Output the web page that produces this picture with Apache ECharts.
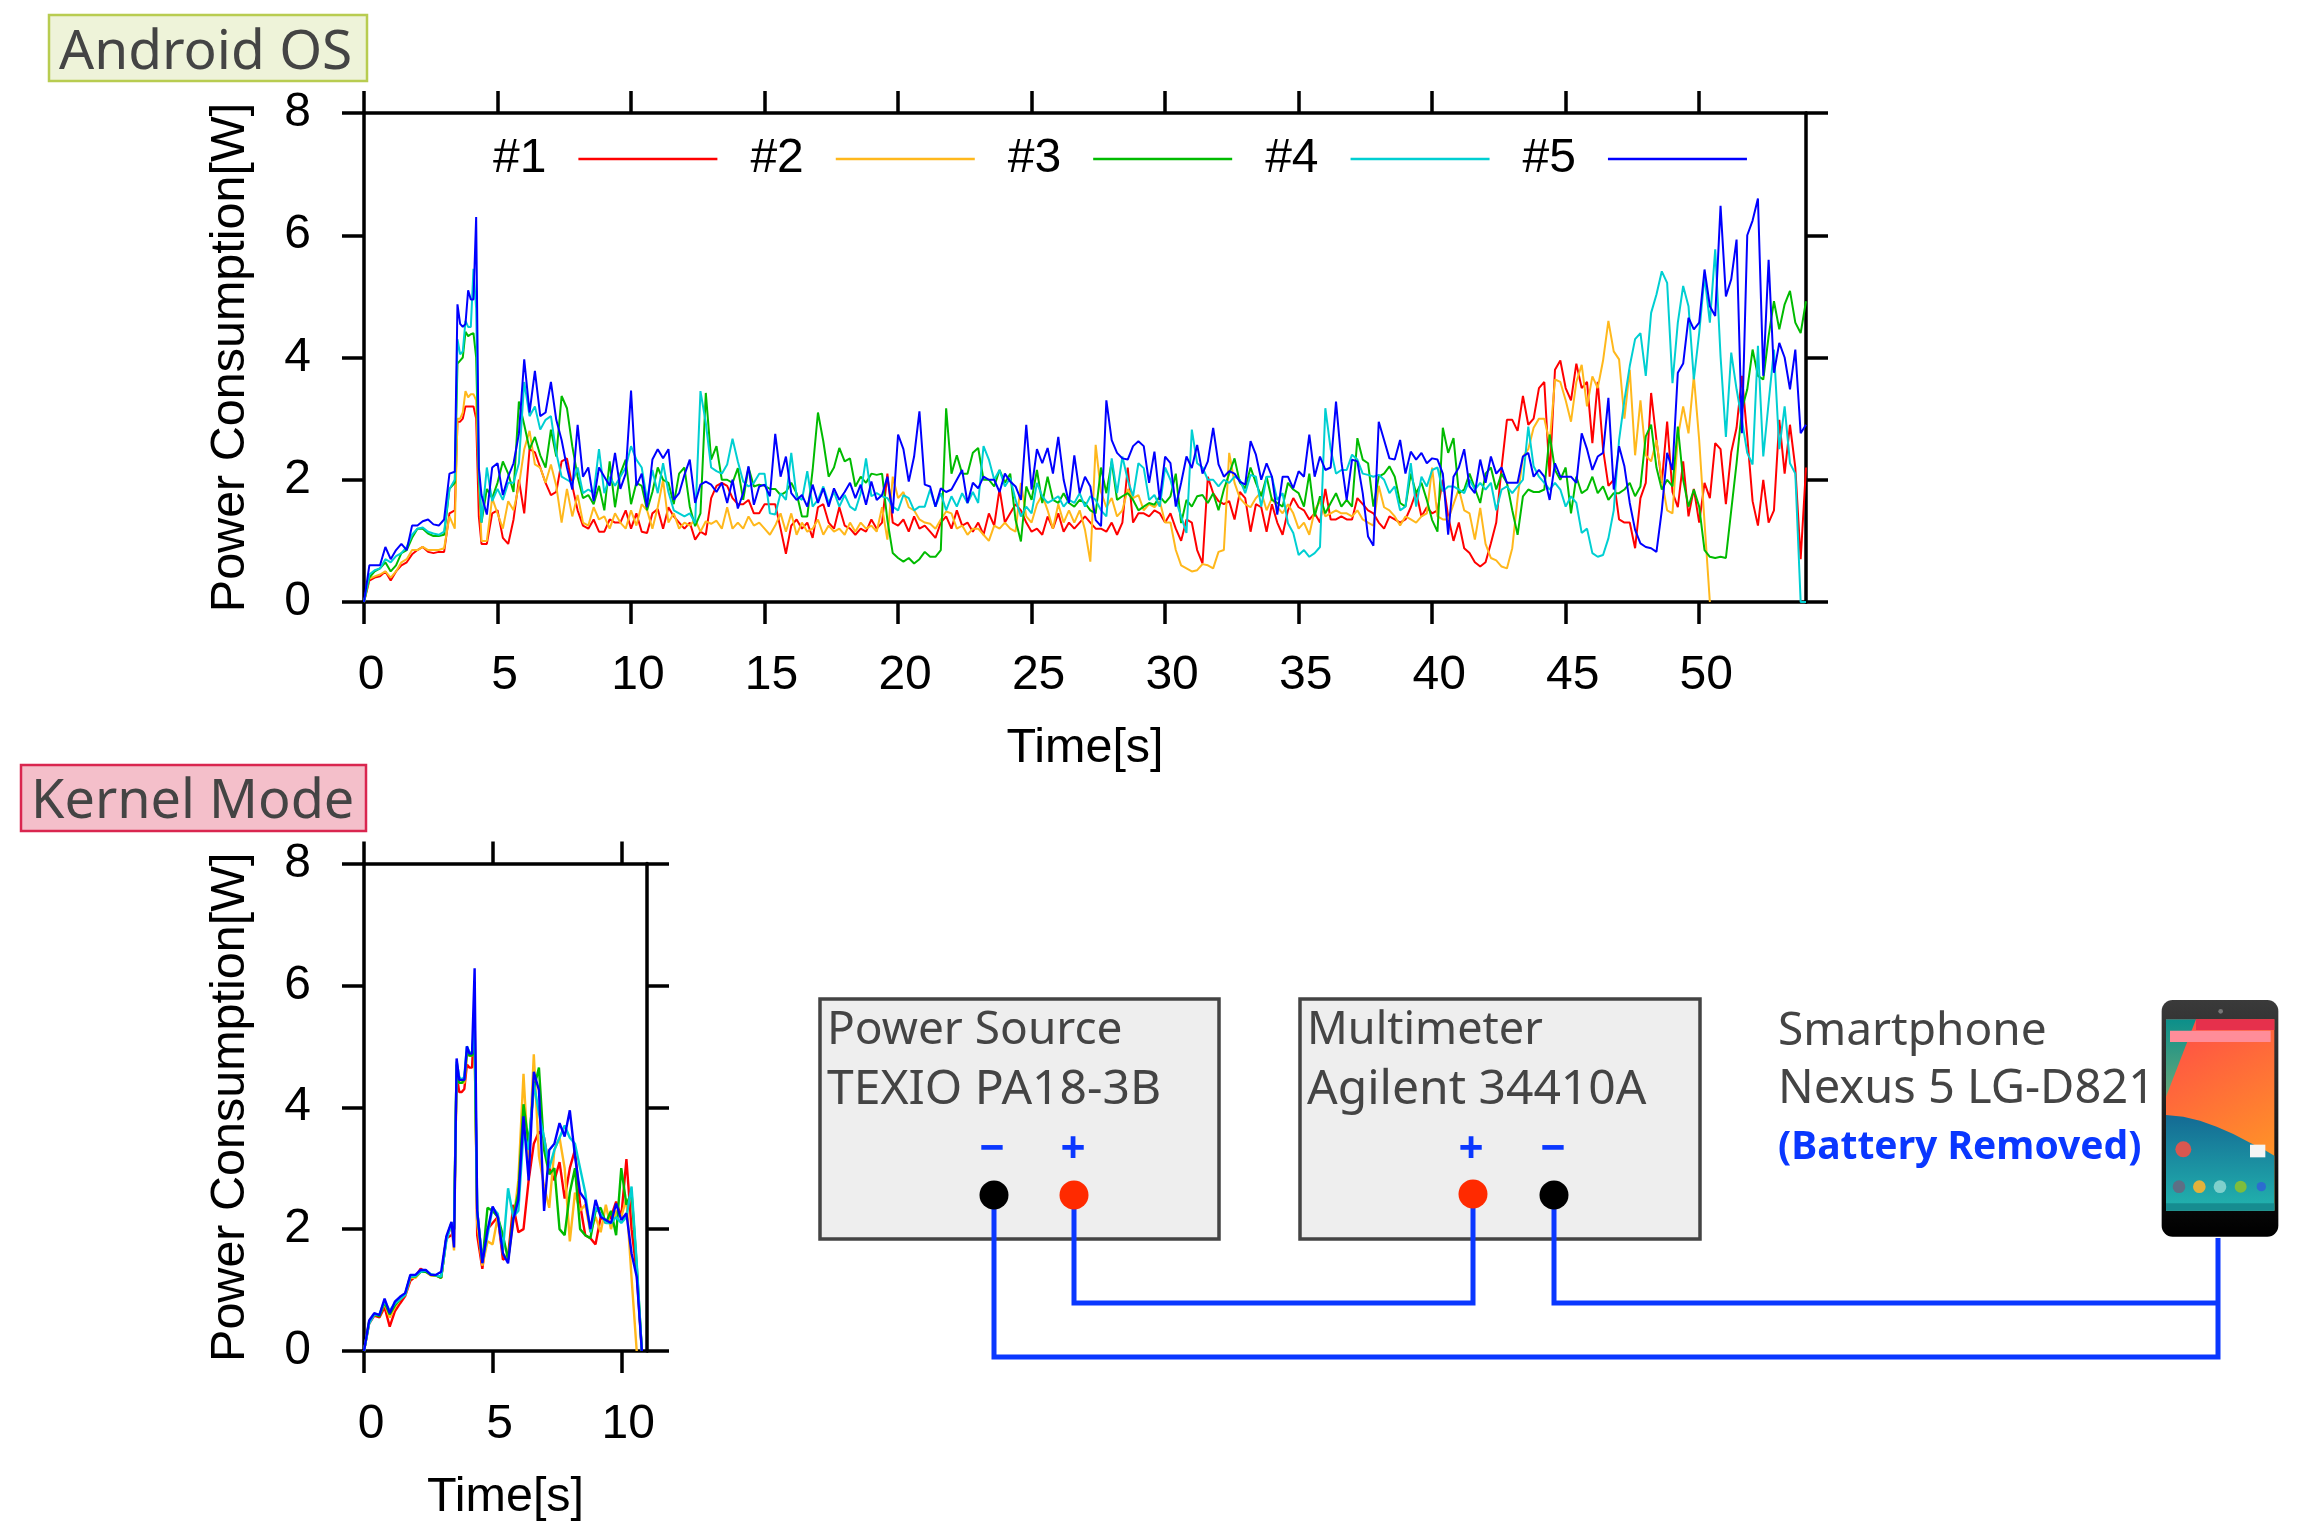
<!DOCTYPE html>
<html lang="en">
<head>
    <meta charset="UTF-8">
    <title>Power Consumption</title>
    <script src="https://cdn.jsdelivr.net/npm/echarts@6/dist/echarts.min.js"></script>
    <style>
        body { margin: 0; background: #fff; }
        .chart { width: 2304px; height: 1536px; }
    </style>
</head>
<body>
<div class="chart"></div>
<script>
    const runNames = ['#1', '#2', '#3', '#4', '#5'];
    const runColors = ['#ff0000', '#ffb81c', '#00bb00', '#00cfd2', '#0000ff'];
    const yTicks = [0, 2, 4, 6, 8];
    const androidTicks = [0, 5, 10, 15, 20, 25, 30, 35, 40, 45, 50];
    const kernelTicks = [0, 5, 10];

    // samples every 0.2 s (one row is 2 s), except 3.4 s to 4.4 s which is read every 0.1 s
    const androidRun1 = [
        0,.35,.4,.42,.5,.35,.5,.6,.65,.78,
        .85,.9,.82,.8,.82,.82,1.45,
        1.5,2.95,2.95,3.0,3.2,3.2,3.2,3.2,3.0,1.4,.95,
        .95,1.45,1.5,1.05,.95,1.35,2.0,
        1.45,2.5,2.45,2.2,1.95,1.75,1.8,2.3,2.35,1.9,
        1.5,1.25,1.2,1.35,1.15,1.15,1.35,1.3,1.3,1.5,
        1.2,1.45,1.15,1.13,1.45,1.52,1.2,1.55,1.4,1.3,
        1.2,1.3,1.02,1.15,1.1,1.7,1.9,1.95,1.9,1.7,
        1.6,1.6,1.67,1.45,1.45,1.6,1.6,1.6,1.2,.79,
        1.25,1.35,1.2,1.3,1.05,1.55,1.6,1.3,1.2,1.55,
        1.25,1.2,1.1,1.2,1.15,1.35,1.2,1.3,2.1,1.3,
        1.25,1.35,1.15,1.4,1.2,1.25,1.15,1.05,1.3,1.4,
        1.2,1.5,1.25,1.3,1.15,1.3,1.1,1.45,1.25,1.85,
        1.3,1.45,1.6,1.5,1.3,1.15,1.2,1.1,1.4,1.2,
        1.45,1.15,1.3,1.2,1.3,1.4,1.3,1.2,1.2,1.15,
        1.3,1.1,1.3,2.2,1.3,1.45,1.45,1.4,1.5,1.45,
        1.3,1.45,1.2,1.0,1.35,1.3,.85,.63,2.05,1.78,
        1.65,1.6,1.65,1.35,1.8,1.7,1.15,1.6,1.55,1.15,
        1.6,1.3,1.1,1.5,1.7,1.55,1.5,1.35,1.45,1.3,
        1.85,1.35,1.35,1.4,1.35,1.35,1.7,1.6,1.5,1.45,
        1.3,1.2,1.4,1.35,1.3,1.35,1.55,1.8,1.4,1.55,
        1.45,1.5,2.0,1.4,1.0,1.3,.88,.8,.65,.58,
        .65,.96,1.3,2.2,2.98,2.98,2.8,3.37,2.9,3.0,
        3.5,3.6,2.05,3.8,3.95,3.5,3.3,3.9,3.5,3.6,
        2.6,3.6,2.5,1.9,2.0,1.35,1.3,1.3,.88,1.7,
        1.95,3.42,2.65,1.95,2.95,1.8,1.55,2.3,1.4,1.85,
        1.3,1.95,1.7,2.6,2.5,1.6,2.45,2.85,3.7,2.71,
        1.65,1.25,2.0,1.3,1.5,2.98,2.1,2.9,2.2,.7,
        2.2
    ];
    const androidRun2 = [
        0,.38,.42,.45,.5,.4,.5,.65,.7,.85,
        .85,.9,.85,.85,.85,.88,1.4,
        1.2,3.0,3.0,3.1,3.45,3.35,3.4,3.4,3.3,2.0,1.0,
        1.0,1.7,1.45,1.2,1.65,1.5,1.9,
        2.5,2.8,2.25,2.2,1.95,2.25,1.9,1.3,1.85,1.4,
        1.75,1.3,1.25,1.55,1.35,1.4,1.2,1.45,1.3,1.2,
        1.5,1.25,1.6,1.5,1.2,1.55,2.0,1.3,1.45,1.2,
        1.3,1.25,1.35,1.15,1.32,1.28,1.33,1.2,1.55,1.2,
        1.3,1.2,1.4,1.25,1.3,1.2,1.1,1.25,1.45,1.15,
        1.45,1.1,1.3,1.15,1.2,1.35,1.1,1.25,1.15,1.2,
        1.1,1.3,1.15,1.3,1.2,1.25,1.15,1.55,1.02,2.05,
        1.7,1.8,1.55,1.5,1.35,1.3,1.28,1.2,1.35,1.48,
        1.45,1.2,1.25,1.1,1.2,1.2,1.1,1.0,1.25,1.2,
        1.3,1.2,1.15,1.95,1.4,1.3,1.6,1.75,1.5,1.2,
        1.6,1.3,1.5,1.3,1.5,1.18,.66,2.57,1.8,1.55,
        1.7,1.4,1.5,1.85,1.7,1.75,1.5,1.6,1.55,1.65,
        1.3,1.3,.85,.6,.55,.5,.52,.62,.6,.55,
        .82,.85,2.44,1.95,1.7,1.6,1.55,1.7,1.8,1.5,
        1.7,1.55,1.45,1.6,1.45,1.2,1.3,1.1,1.5,1.65,
        1.4,1.45,1.5,1.45,1.45,1.4,1.5,1.35,1.3,1.25,
        1.9,1.55,1.5,1.4,1.25,1.4,1.35,1.3,1.4,1.45,
        2.2,1.4,1.35,1.35,1.6,1.85,1.5,1.45,1.02,1.54,
        .95,.72,.68,.58,.55,.88,1.7,2.38,2.5,2.85,
        3.0,3.0,2.6,3.64,3.6,3.3,2.95,3.6,3.88,3.2,
        3.69,3.5,3.95,4.6,4.1,3.97,3.0,3.8,2.4,3.3,
        2.4,2.3,2.65,2.0,1.5,1.45,2.7,3.2,2.76,3.7,
        2.65,1.3,0
    ];
    const androidRun3 = [
        0,.4,.5,.55,.65,.5,.6,.8,.85,1.05,
        1.2,1.2,1.12,1.08,1.08,1.1,1.85,
        1.95,3.9,3.95,4.0,4.42,4.35,4.38,4.4,4.0,2.1,1.3,
        1.85,1.7,1.95,2.3,2.1,1.8,3.28,
        2.9,2.5,2.7,2.4,2.2,2.82,2.38,3.37,3.17,2.55,
        2.05,1.7,1.75,1.6,1.9,1.5,2.3,1.55,2.1,2.33,
        1.6,1.95,1.9,1.5,1.8,2.2,2.0,1.95,1.6,2.1,
        2.2,1.56,1.24,1.45,3.42,2.33,2.55,2.0,2.0,1.95,
        2.19,1.67,2.2,1.89,1.92,1.9,1.85,1.85,1.75,1.8,
        1.95,1.78,1.4,1.4,2.16,3.1,2.63,2.05,2.2,2.52,
        2.3,2.35,1.89,2.05,1.95,2.1,2.08,2.1,1.34,.8,
        .72,.66,.72,.63,.7,.82,.74,.74,.85,3.17,
        2.1,2.4,2.1,2.1,2.44,2.52,2.0,2.0,1.89,2.16,
        1.95,2.1,1.34,.99,1.89,1.67,2.16,1.62,2.05,1.67,
        1.62,1.78,1.62,1.56,1.67,1.62,1.5,1.45,2.2,1.78,
        2.3,1.67,1.73,1.78,1.67,1.5,1.56,1.62,1.59,1.73,
        1.62,1.73,2.1,1.29,1.67,1.56,1.73,1.75,1.62,1.78,
        1.5,1.84,2.1,2.35,1.95,1.86,2.2,1.95,1.73,2.05,
        1.67,1.62,1.56,1.95,1.84,1.78,1.56,2.1,1.4,1.73,
        1.45,1.62,1.78,1.56,1.67,1.56,2.68,2.33,2.27,1.56,
        2.05,2.1,2.22,2.05,1.62,1.56,2.1,1.78,1.95,1.67,
        1.34,1.15,2.85,2.44,2.68,1.78,1.84,2.1,1.86,1.62,
        2.1,2.2,1.84,2.1,1.95,1.5,1.1,1.73,1.84,1.8,
        1.8,1.84,2.74,2.16,2.0,2.2,1.45,2.05,1.78,1.84,
        2.05,1.78,1.89,1.67,1.78,1.78,1.84,1.95,1.73,1.89,
        2.71,2.9,2.2,1.84,2.0,1.89,2.87,2.0,1.56,1.84,
        1.56,.85,.74,.72,.74,.72,1.5,2.27,3.15,3.48,
        4.13,3.7,3.64,4.35,4.92,4.46,4.87,5.09,4.57,4.4,
        4.92
    ];
    const androidRun4 = [
        0,.45,.52,.55,.7,.65,.75,.8,.9,1.1,
        1.2,1.22,1.15,1.12,1.1,1.15,1.85,
        2.0,4.3,4.05,4.1,4.6,4.5,4.5,5.45,4.8,2.2,1.3,
        2.2,1.65,1.85,1.67,1.95,1.95,2.27,
        3.6,3.04,3.2,2.82,2.98,3.04,2.44,2.05,2.0,1.95,
        2.2,1.78,1.84,1.78,2.5,1.78,2.05,1.9,2.05,2.2,
        2.55,2.33,2.2,1.67,2.16,1.78,2.27,1.8,1.5,1.45,
        1.4,1.45,1.29,3.45,2.93,2.2,2.14,2.1,2.25,2.67,
        2.3,1.97,1.89,1.95,2.1,2.1,1.45,1.43,1.78,1.67,
        2.44,1.73,1.67,2.14,1.56,1.67,1.89,1.62,1.8,1.56,
        1.75,1.56,1.5,1.78,2.35,1.73,1.78,1.73,1.7,1.56,
        1.5,1.75,1.7,1.5,1.56,1.56,1.84,1.56,1.78,1.5,
        1.73,1.56,1.78,1.62,1.8,1.62,2.55,2.33,2.0,2.16,
        1.89,2.03,1.67,1.4,1.56,1.45,1.95,1.73,1.62,1.67,
        1.73,1.56,1.67,1.62,1.78,1.56,1.73,1.67,1.5,1.4,
        2.35,1.78,2.38,2.0,1.73,2.27,2.19,1.67,1.75,1.56,
        2.2,2.0,1.67,1.4,1.13,2.82,2.27,2.2,2.0,2.0,
        1.89,2.0,1.95,2.05,2.0,1.78,2.08,2.05,1.56,2.05,
        2.05,1.67,1.78,1.29,1.13,.77,.85,.74,.8,.9,
        3.17,2.5,2.1,2.16,2.16,2.41,2.33,2.1,2.08,2.05,
        2.08,2.0,1.78,1.89,1.5,1.56,2.27,1.56,2.05,1.89,
        2.16,2.2,1.81,1.89,1.89,1.84,1.78,2.0,1.84,1.95,
        1.84,1.95,1.5,1.84,1.89,1.78,1.89,2.0,2.87,2.22,
        2.05,1.95,1.84,1.95,1.84,1.56,1.73,1.62,1.13,1.2,
        .8,.74,.77,1.04,1.5,2.65,3.3,3.86,4.3,4.4,
        3.7,4.73,5.03,5.41,5.22,3.58,4.57,5.17,4.84,3.64,
        4.4,5.33,4.57,5.77,4.02,2.7,4.08,3.48,2.98,2.44,
        2.25,4.19,2.38,3.26,4.13,2.5,3.2,2.27,2.1,0,
        0
    ];
    const androidRun5 = [
        0,.6,.6,.6,.9,.7,.85,.95,.85,1.25,
        1.25,1.32,1.35,1.27,1.25,1.35,2.1,
        2.13,4.87,4.55,4.5,4.55,5.1,4.95,4.95,6.3,2.2,1.75,
        1.43,2.2,2.27,1.75,2.05,2.27,2.75,
        3.97,3.1,3.78,3.04,3.1,3.6,2.98,2.65,2.2,1.84,
        2.9,2.05,2.2,1.65,2.2,2.05,1.9,2.44,1.85,2.1,
        3.46,1.9,2.1,1.55,2.33,2.5,2.35,2.5,1.67,1.78,
        2.08,2.33,1.62,1.92,1.97,1.92,1.8,1.95,1.62,2.0,
        1.53,1.78,2.22,1.59,1.89,1.92,1.73,2.75,2.05,2.38,
        1.78,1.67,1.75,1.56,1.92,1.62,1.86,1.56,1.86,1.67,
        1.8,1.95,1.7,1.92,1.59,1.97,1.67,1.75,2.05,1.45,
        2.74,2.5,1.97,2.38,3.12,1.92,1.89,1.56,1.86,1.8,
        1.84,2.0,2.16,1.62,1.95,1.86,2.05,2.0,2.0,1.8,
        2.1,1.97,1.89,1.67,2.9,1.84,2.5,2.27,2.52,2.1,
        2.7,2.0,1.62,2.4,1.78,2.05,1.89,1.34,1.24,3.3,
        2.65,2.44,2.35,2.33,2.55,2.63,2.55,1.95,2.46,1.67,
        2.38,2.27,1.56,1.95,2.38,2.19,2.57,2.1,2.3,2.85,
        2.25,2.05,2.14,2.1,1.97,1.92,2.63,2.41,2.0,2.27,
        2.05,1.43,2.05,2.05,1.86,2.14,2.05,2.74,2.05,2.38,
        2.16,2.2,3.28,2.3,1.67,2.33,2.3,1.78,1.07,.92,
        2.95,2.65,2.35,2.33,2.65,2.1,2.46,2.33,2.44,2.27,
        2.35,2.33,2.1,1.1,2.05,2.2,2.5,1.89,1.78,2.33,
        1.95,2.38,2.1,2.2,1.95,1.95,1.95,2.38,2.44,2.05,
        2.16,2.05,1.67,2.27,2.05,2.05,2.05,1.95,2.76,2.5,
        2.16,2.38,2.44,3.34,1.84,2.55,2.22,1.62,1.18,.96,
        .9,.88,.82,1.5,2.44,2.16,3.75,3.9,4.65,4.46,
        4.57,5.44,4.84,4.68,6.48,5.0,5.28,5.93,2.76,6.0,
        6.24,6.6,3.7,5.6,3.75,4.24,4.0,3.48,4.13,2.76,
        2.9
    ];

    const kernelRun1 = [
        0,.45,.58,.55,.72,.4,.65,.78,.9,1.15,
        1.22,1.35,1.3,1.25,1.24,1.2,1.85,
        1.9,2.0,4.55,4.25,4.25,4.3,4.7,4.65,4.65,5.55,1.9,
        1.35,2.0,2.1,2.2,1.5,1.55,2.4,
        1.95,2.0,2.8,3.4,3.6,3.5,3.0,2.8,3.1,2.5,
        3.0,3.3,2.4,1.9,1.85,1.75,2.2,2.1,2.2,2.45,
        2.2,3.15,2.0,1.28,0
    ];
    const kernelRun2 = [
        0,.47,.6,.58,.78,.55,.72,.85,.92,1.2,
        1.2,1.3,1.3,1.24,1.24,1.2,1.85,
        2.05,1.65,4.7,4.4,4.4,4.4,4.85,4.85,4.85,5.0,2.1,
        1.4,1.8,1.75,2.2,1.6,1.5,2.1,
        2.8,4.55,3.0,4.87,3.2,2.7,2.35,3.3,3.5,3.0,
        1.8,2.6,2.3,2.4,1.95,2.2,1.95,2.4,2.0,2.3,
        2.2,2.5,1.2,0
    ];
    const kernelRun3 = [
        0,.48,.6,.57,.8,.6,.75,.85,.93,1.22,
        1.22,1.3,1.3,1.25,1.24,1.2,1.85,
        2.1,2.0,4.7,4.4,4.4,4.45,4.9,4.85,4.85,5.0,2.3,
        1.45,2.35,2.3,2.2,1.9,1.5,2.2,
        2.6,4.05,3.4,4.3,4.65,3.3,2.9,3.0,2.0,1.9,
        2.6,3.0,2.0,1.9,1.85,2.3,2.35,2.1,2.3,1.9,
        3.0,2.4,2.6,1.4,0
    ];
    const kernelRun4 = [
        0,.45,.6,.6,.82,.66,.78,.85,.92,1.22,
        1.23,1.3,1.32,1.26,1.24,1.22,1.8,
        2.1,2.0,4.75,4.5,4.45,4.5,5.0,4.9,4.9,5.4,2.3,
        1.46,1.9,2.35,2.25,1.65,2.67,2.2,
        2.3,3.6,3.3,4.4,3.9,3.5,3.0,3.3,3.5,3.7,
        3.5,3.4,3.0,2.6,1.95,2.35,2.25,2.1,2.1,2.2,
        2.1,2.2,2.7,1.45,0
    ];
    const kernelRun5 = [
        0,.5,.62,.59,.86,.62,.81,.89,.95,1.25,
        1.25,1.33,1.33,1.25,1.25,1.3,1.88,
        2.12,1.7,4.8,4.45,4.45,4.45,5.0,4.88,4.88,6.28,2.3,
        1.44,1.98,2.37,2.2,1.6,1.44,2.15,
        2.48,3.85,2.8,4.58,4.28,2.3,3.3,3.4,3.74,3.52,
        3.95,3.2,2.6,2.48,2.0,2.48,2.2,2.15,2.1,2.42,
        2.15,2.26,1.6,1.22,0
    ];

    const androidRuns = [androidRun1, androidRun2, androidRun3, androidRun4, androidRun5];
    const kernelRuns = [kernelRun1, kernelRun2, kernelRun3, kernelRun4, kernelRun5];

    const FONT = '"Liberation Sans", sans-serif';
    const DIAGRAM_FONT = '"Noto Sans", sans-serif';
    const CABLE = '#0a37ff';

    let chart = echarts.init(document.querySelector('.chart'));

    // time of k-th sample
    function timeOf(k) {
        if (k <= 17) return k * 0.2;
        if (k <= 27) return 3.4 + (k - 17) * 0.1;
        return 4.4 + (k - 27) * 0.2;
    }

    function xAxisOf(gridIndex, max, ticks, position) {
        let isBottom = position == 'bottom';
        return {
            type: 'value', gridIndex, position, min: 0, max,
            name: isBottom ? 'Time[s]' : '',
            nameLocation: 'middle',
            nameGap: 122,
            nameTextStyle: {fontFamily: FONT, fontSize: 48.5, color: '#000'},
            axisLine: {show: true, onZero: false, lineStyle: {color: '#000', width: 3.5}},
            axisTick: {show: true, length: 22, customValues: ticks, lineStyle: {color: '#000', width: 3.5}},
            axisLabel: {
                show: isBottom, customValues: ticks, margin: 50,
                padding: [0, 0, 0, 14],
                fontFamily: FONT, fontSize: 48, color: '#000'
            },
            splitLine: {show: false}
        };
    }

    function yAxisOf(gridIndex, position) {
        let isLeft = position == 'left';
        return {
            type: 'value', gridIndex, position, min: 0, max: 8, interval: 2,
            name: isLeft ? 'Power Consumption[W]' : '',
            nameLocation: 'middle',
            nameGap: 109,
            nameTextStyle: {fontFamily: FONT, fontSize: 48.5, color: '#000'},
            axisLine: {show: true, onZero: false, lineStyle: {color: '#000', width: 3.5}},
            axisTick: {show: true, length: 22, lineStyle: {color: '#000', width: 3.5}},
            axisLabel: {show: isLeft, margin: 53, padding: [9, 0, 0, 0], fontFamily: FONT, fontSize: 48, color: '#000'},
            splitLine: {show: false}
        };
    }

    function seriesOf(runs, axisIndex, width) {
        return runs.map((run, i) => ({
            type: 'line',
            name: runNames[i],
            xAxisIndex: axisIndex,
            yAxisIndex: axisIndex,
            data: run.map((v, k) => [timeOf(k), v]),
            showSymbol: false,
            symbol: 'none',
            silent: true,
            lineStyle: {color: runColors[i], width},
            itemStyle: {color: runColors[i]},
            z: 2 + i
        }));
    }

    // ---- diagram pieces ----
    function rect(x, y, w, h, fill, stroke, lineWidth) {
        return {type: 'rect', shape: {x, y, width: w, height: h}, style: {fill, stroke, lineWidth}};
    }
    function text(x, y, value, fontSize, fill, weight, align) {
        return {
            type: 'text', x, y,
            style: {
                text: value, fontFamily: DIAGRAM_FONT, fontSize, fill,
                fontWeight: weight || 'normal',
                align: align || 'left', verticalAlign: 'middle'
            }
        };
    }
    function cable(points) {
        return {type: 'polyline', shape: {points}, style: {stroke: CABLE, lineWidth: 5, fill: 'none'}};
    }
    function dot(x, y, fill) {
        return {type: 'circle', shape: {cx: x, cy: y, r: 14.5}, style: {fill}};
    }

    // phone picture, coordinates given in a 462x810 box placed at 2150,990
    function phone() {
        let px = x => 2150 + x / 3, py = y => 990 + y / 3;
        let poly = (pts, fill) => ({
            type: 'polygon',
            shape: {points: pts.map(p => [px(p[0]), py(p[1])])},
            style: {fill}
        });
        let grad = (x, y, x2, y2, c1, c2) => ({
            type: 'linear', x, y, x2, y2, colorStops: [{offset: 0, color: c1}, {offset: 1, color: c2}]
        });
        let ball = (x, y, r, fill) => ({type: 'circle', shape: {cx: px(x), cy: py(y), r: r / 3}, style: {fill}});
        let box = (x, y, w, h, fill) => ({type: 'rect', shape: {x: px(x), y: py(y), width: w / 3, height: h / 3}, style: {fill}});
        return [
            {type: 'rect', shape: {x: px(35), y: py(30), width: 350 / 3, height: 710 / 3, r: 11},
                style: {fill: grad(0, 0, 0, 1, '#3a3a3a', '#000')}},
            box(48, 88, 325, 574, grad(0, 0, 1, 1, '#ff4a48', '#ffa81e')),
            poly([[48, 88], [138, 88], [48, 320]], grad(0, 0, 0, 1, '#0b8f8a', '#6aa878')),
            box(138, 88, 235, 32, '#e6304c'),
            box(60, 122, 302, 34, '#ff8d99'),
            poly([[48, 375], [100, 380], [150, 392], [200, 410], [250, 432], [300, 458], [340, 478], [373, 497],
                [373, 662], [48, 662]], grad(0, 0, 0, 1, '#146a94', '#22b4ae')),
            box(48, 640, 325, 22, '#168c90'),
            ball(100, 478, 24, '#d8574f'),
            box(300, 464, 46, 38, '#f4f4f4'),
            ball(87, 590, 19, '#5d6f85'),
            ball(148, 590, 19, '#e2b23c'),
            ball(210, 590, 19, '#7fd0cc'),
            ball(272, 590, 18, '#7ebd3c'),
            ball(334, 590, 14, '#2c6cd0'),
            ball(212, 64, 7, '#777')
        ];
    }

    let graphics = [
        // titles
        rect(49, 15, 318, 66, '#eef3d9', '#b8cc50', 2.5),
        text(59, 53, 'Android OS', 55, '#444'),
        rect(21, 765, 345, 66, '#f4bfca', '#d9264f', 2.5),
        text(31, 803, 'Kernel Mode', 54, '#444'),

        // instruments
        rect(820, 999, 399, 240, '#eeeeee', '#444', 3.5),
        rect(1300, 999, 400, 240, '#eeeeee', '#444', 3.5),
        text(827, 1031, 'Power Source', 46, '#444'),
        text(827, 1090, 'TEXIO PA18-3B', 48, '#444'),
        text(1307, 1031, 'Multimeter', 45, '#444'),
        text(1307, 1090, 'Agilent 34410A', 48, '#444'),
        text(1778, 1032, 'Smartphone', 46, '#444'),
        text(1778, 1090, 'Nexus 5 LG-D821', 47, '#444'),
        text(1778, 1148, '(Battery Removed)', 39, CABLE, 'bold'),
        text(992, 1150, '−', 44, CABLE, 'bold', 'center'),
        text(1073, 1150, '+', 44, CABLE, 'bold', 'center'),
        text(1471, 1150, '+', 44, CABLE, 'bold', 'center'),
        text(1553, 1150, '−', 44, CABLE, 'bold', 'center'),

        // wiring
        cable([[994, 1196], [994, 1357], [2218, 1357], [2218, 1238]]),
        cable([[1074, 1196], [1074, 1303], [1473, 1303], [1473, 1196]]),
        cable([[1554, 1196], [1554, 1303], [2218, 1303]]),
        dot(994, 1195, '#000'),
        dot(1074, 1195, '#ff2a00'),
        dot(1473, 1194, '#ff2a00'),
        dot(1554, 1195, '#000')
    ].concat(phone());

    let option = {
        animation: false,
        backgroundColor: '#fff',
        grid: [
            {left: 364, top: 113, width: 1442, height: 489},
            {left: 364, top: 863.5, width: 283, height: 487.5}
        ],
        xAxis: [
            xAxisOf(0, 54, androidTicks, 'bottom'),
            xAxisOf(1, 11, kernelTicks, 'bottom'),
            xAxisOf(0, 54, androidTicks, 'top'),
            xAxisOf(1, 11, kernelTicks, 'top')
        ],
        yAxis: [
            yAxisOf(0, 'left'),
            yAxisOf(1, 'left'),
            yAxisOf(0, 'right'),
            yAxisOf(1, 'right')
        ],
        legend: {
            left: 488,
            top: 130,
            align: 'right',
            icon: 'rect',
            itemWidth: 139,
            itemHeight: 2.5,
            itemGap: 33,
            selectedMode: false,
            data: runNames,
            textStyle: {fontFamily: FONT, fontSize: 48, color: '#000', padding: [8, 27, 0, 0]}
        },
        series: seriesOf(androidRuns, 0, 2).concat(seriesOf(kernelRuns, 1, 2.4)),
        graphic: {elements: graphics}
    };

    chart.setOption(option);
</script>
</body>
</html>
